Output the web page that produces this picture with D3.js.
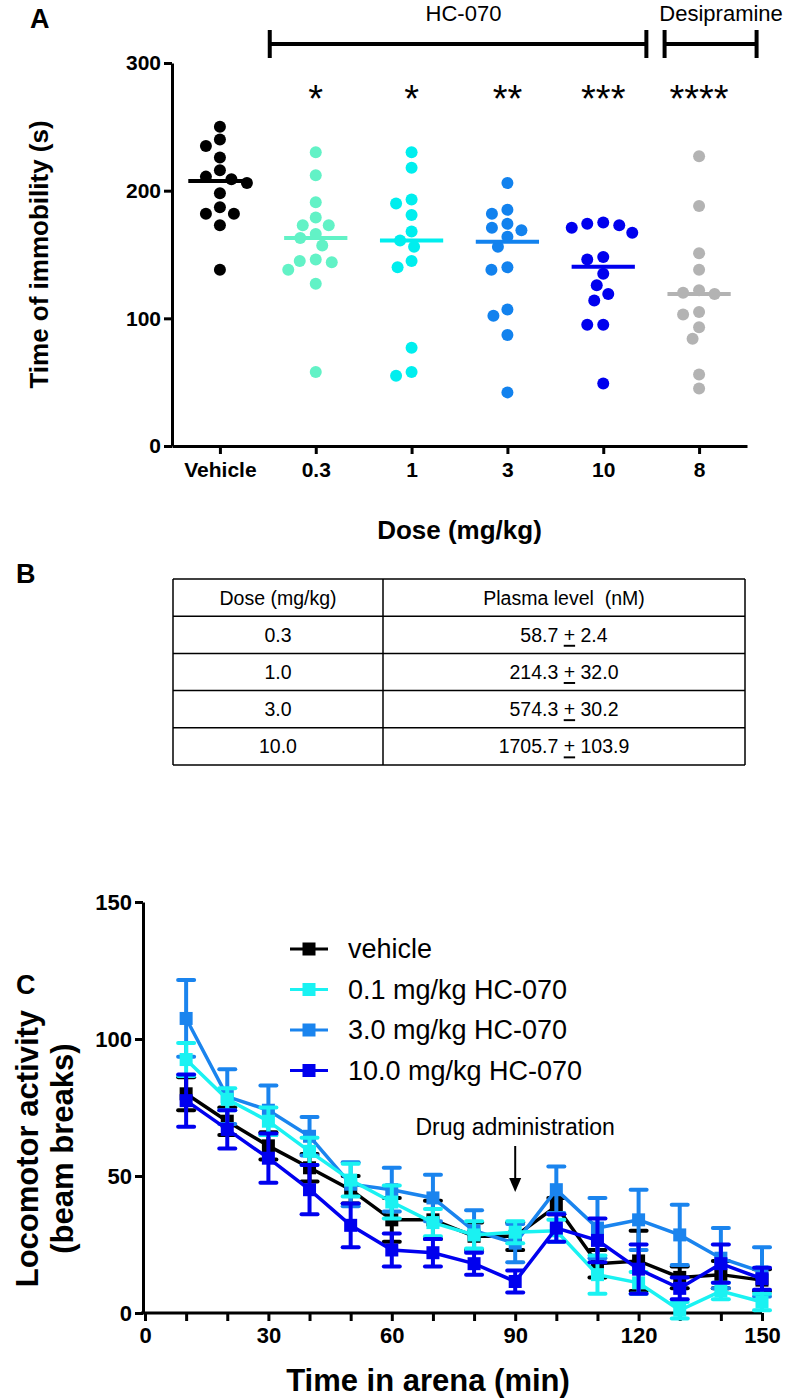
<!DOCTYPE html>
<html>
<head>
<meta charset="utf-8">
<script src="https://cdn.jsdelivr.net/npm/d3@7"></script>
<style>
body { margin: 0; background: #fff; }
svg { display: block; font-family: "Liberation Sans", Arial, sans-serif; }
</style>
</head>
<body>
<svg id="fig" width="787" height="1399"></svg>
<script>
// ---------- panel A : forced swim, time of immobility ----------
var doseLabels = ["Vehicle", "0.3", "1", "3", "10", "8"];
var sigLabels = ["", "*", "*", "**", "***", "****"];
var groupColors = ["#000000", "#62f2c6", "#00eeee", "#1282ee", "#0000ee", "#b3b3b3"];
var vehicleVals = [250, 240, 235, 226, 216, 211, 209, 206, 198, 187, 182, 182, 173, 138];
var hc03Vals = [230, 212, 191, 179, 173, 173, 166, 163, 157, 146, 145, 144, 138, 127, 58];
var hc1Vals = [230, 218, 193, 190, 181, 168, 161, 156, 145, 140, 77, 58, 55];
var hc3Vals = [206, 185, 182, 174, 171, 169, 164, 156, 140, 138, 107, 102, 87, 42];
var hc10Vals = [175, 174, 173, 171, 167, 148, 146, 135, 126, 119, 114, 95, 95, 49];
var desiVals = [227, 188, 151, 138, 122, 120, 119, 105, 103, 93, 84, 56, 45];
var groups = [vehicleVals, hc03Vals, hc1Vals, hc3Vals, hc10Vals, desiVals];

// ---------- panel B : plasma levels ----------
var tableDoses = ["0.3", "1.0", "3.0", "10.0"];
var plasmaMean = ["58.7", "214.3", "574.3", "1705.7"];
var plasmaSem = ["2.4", "32.0", "30.2", "103.9"];

// ---------- panel C : locomotor activity ----------
var times = [10, 20, 30, 40, 50, 60, 70, 80, 90, 100, 110, 120, 130, 140, 150];
var seriesNames = ["vehicle", "0.1 mg/kg HC-070", "3.0 mg/kg HC-070", "10.0 mg/kg HC-070"];
var seriesColors = ["#000000", "#1af2f2", "#1a84ee", "#0000ee"];
var vehicleMean = [80, 70, 61, 53, 45, 34, 34, 28, 28, 39, 18, 19, 13, 14, 12];
var vehicleSem = [6, 5, 5, 5, 5, 8, 7, 5, 5, 3, 5, 11, 4, 5, 4];
var hc01Mean = [92.5, 78, 70, 59, 48.5, 40.5, 33, 28.5, 29.5, 30, 14, 11, 1, 8, 4];
var hc01Sem = [6, 4, 5, 5, 6, 6, 5, 5, 4, 4, 7, 4, 3, 3, 3];
var hc30Mean = [107.5, 79, 74, 64.5, 47, 45, 42, 30, 25.5, 45, 31, 34, 28.5, 20, 15];
var hc30Sem = [14, 10, 9, 7, 8, 8, 8.5, 7.5, 7, 8.5, 11, 11, 11, 11, 9];
var hc100Mean = [77.5, 67, 56.5, 45, 32, 23, 22, 18, 11.5, 31, 26.5, 16, 9, 18, 12.5];
var hc100Sem = [9.5, 7, 9, 9, 8, 6, 5, 4, 4, 5, 8, 9, 4, 7, 4];
var seriesMeans = [vehicleMean, hc01Mean, hc30Mean, hc100Mean];
var seriesSems = [vehicleSem, hc01Sem, hc30Sem, hc100Sem];

var svg = d3.select("#fig");

function styleAxis(g, fontSize) {
    g.select(".domain").attr("stroke-width", 3).attr("stroke", "#000");
    g.selectAll(".tick line").attr("stroke-width", 3).attr("stroke", "#000");
    g.selectAll(".tick text")
        .attr("fill", "#000")
        .style("font-size", fontSize + "px")
        .style("font-weight", "bold");
}

// ======================= PANEL A =======================
var xA = d3.scalePoint().domain(doseLabels).range([172, 747]).padding(0.5);
var yA = d3.scaleLinear().domain([0, 300]).range([446, 63]);
var stepA = xA.step();
var dotR = 6;

svg.append("text").attr("x", 30).attr("y", 28)
    .style("font-size", "27px").style("font-weight", "bold").text("A");

var gyA = svg.append("g").attr("transform", "translate(172,0)")
    .call(d3.axisLeft(yA).tickValues([0, 100, 200, 300]).tickSize(8).tickSizeOuter(0).tickPadding(3));
styleAxis(gyA, 21);

var gxA = svg.append("g").attr("transform", "translate(0,446)")
    .call(d3.axisBottom(xA).tickSize(8).tickSizeOuter(0).tickPadding(8));
styleAxis(gxA, 21);

svg.append("text")
    .attr("transform", "translate(48," + (yA(150)) + ") rotate(-90)")
    .attr("text-anchor", "middle")
    .style("font-size", "26px").style("font-weight", "bold")
    .text("Time of immobility (s)");

svg.append("text").attr("x", (xA("1") + xA("3")) / 2).attr("y", 539)
    .attr("text-anchor", "middle")
    .style("font-size", "26px").style("font-weight", "bold")
    .text("Dose (mg/kg)");

// simple beeswarm: nearest free horizontal offset for each dot
function swarm(vals, cx) {
    var pts = vals.map(function (v) { return { v: v, y: yA(v) }; })
        .sort(function (a, b) { return a.y - b.y; });
    var placed = [];
    pts.forEach(function (p) {
        for (var k = 0; k < 400; k++) {
            var off = (k % 2 ? -1 : 1) * Math.ceil(k / 2) * 0.5;
            var ok = placed.every(function (q) {
                var dx = (q.x - (cx + off)) / 16, dy = (q.y - p.y) / 12.5;
                return dx * dx + dy * dy >= 1;
            });
            if (ok) { p.x = cx + off; break; }
        }
        placed.push(p);
    });
    return placed;
}

groups.forEach(function (vals, i) {
    var cx = xA(doseLabels[i]);
    var g = svg.append("g");
    g.selectAll("circle")
        .data(swarm(vals, cx))
        .enter().append("circle")
        .attr("cx", function (d) { return d.x; })
        .attr("cy", function (d) { return d.y; })
        .attr("r", dotR)
        .attr("fill", groupColors[i]);
    var med = d3.median(vals);
    g.append("line")
        .attr("x1", cx - stepA * 0.33).attr("x2", cx + stepA * 0.33)
        .attr("y1", yA(med)).attr("y2", yA(med))
        .attr("stroke", groupColors[i]).attr("stroke-width", 4);
    svg.append("text").attr("x", cx).attr("y", 112)
        .attr("text-anchor", "middle")
        .style("font-size", "38px")
        .text(sigLabels[i]);
});

// treatment brackets
function bracket(x1, x2, label, tx) {
    var y = 44;
    var g = svg.append("g").attr("stroke", "#000").attr("stroke-width", 4);
    g.append("line").attr("x1", x1).attr("x2", x2).attr("y1", y).attr("y2", y);
    g.append("line").attr("x1", x1).attr("x2", x1).attr("y1", y - 14).attr("y2", y + 14);
    g.append("line").attr("x1", x2).attr("x2", x2).attr("y1", y - 14).attr("y2", y + 14);
    svg.append("text").attr("x", tx).attr("y", 21)
        .attr("text-anchor", "middle").style("font-size", "22px").text(label);
}
bracket(xA("0.3") - stepA * 0.48, xA("10") + stepA * 0.45, "HC-070", (xA("1") + xA("3")) / 2 + 4);
bracket(xA("8") - stepA * 0.36, xA("8") + stepA * 0.6, "Desipramine", xA("8") + 22);

// ======================= PANEL B =======================
svg.append("text").attr("x", 16).attr("y", 583)
    .style("font-size", "27px").style("font-weight", "bold").text("B");

var colX = [173, 383, 745];
var rowY = d3.range(6).map(function (i) { return 579 + i * 37.2; });
var tb = svg.append("g").attr("stroke", "#000").attr("stroke-width", 1.5);
rowY.forEach(function (y) {
    tb.append("line").attr("x1", colX[0]).attr("x2", colX[2]).attr("y1", y).attr("y2", y);
});
colX.forEach(function (x) {
    tb.append("line").attr("x1", x).attr("x2", x).attr("y1", rowY[0]).attr("y2", rowY[5]);
});

function cell(col, row) {
    return svg.append("text")
        .attr("x", (colX[col] + colX[col + 1]) / 2)
        .attr("y", (rowY[row] + rowY[row + 1]) / 2)
        .attr("text-anchor", "middle").attr("dominant-baseline", "central")
        .style("font-size", "19.5px");
}
cell(0, 0).text("Dose (mg/kg)");
cell(1, 0).attr("xml:space", "preserve").text("Plasma level  (nM)");
tableDoses.forEach(function (d, i) {
    cell(0, i + 1).text(d);
    var t = cell(1, i + 1).attr("xml:space", "preserve");
    t.append("tspan").text(plasmaMean[i] + " ");
    t.append("tspan").style("text-decoration", "underline").text("+");
    t.append("tspan").text(" " + plasmaSem[i]);
});

// ======================= PANEL C =======================
var xC = d3.scaleLinear().domain([0, 150]).range([145, 762]);
var yC = d3.scaleLinear().domain([0, 150]).range([1313, 902]);

svg.append("text").attr("x", 16).attr("y", 994)
    .style("font-size", "27px").style("font-weight", "bold").text("C");

var gyC = svg.append("g").attr("transform", "translate(143,0)")
    .call(d3.axisLeft(yC).tickValues([0, 50, 100, 150]).tickSize(8).tickSizeOuter(0).tickPadding(3));
styleAxis(gyC, 22);

var gxC = svg.append("g").attr("transform", "translate(0,1313)")
    .call(d3.axisBottom(xC).tickValues(d3.range(0, 151, 10)).tickSize(8).tickSizeOuter(0).tickPadding(6)
        .tickFormat(function (d) { return d % 30 === 0 ? d : ""; }));
styleAxis(gxC, 22);
gxC.select(".domain").attr("d", "M141,0H" + xC(150));

var yTitle = svg.append("text")
    .attr("transform", "translate(0," + yC(60) + ") rotate(-90)")
    .attr("text-anchor", "middle")
    .style("font-size", "31px").style("font-weight", "bold");
yTitle.append("tspan").attr("x", 0).attr("y", 38).text("Locomotor activity");
yTitle.append("tspan").attr("x", 0).attr("y", 73).text("(beam breaks)");

svg.append("text").attr("x", 428).attr("y", 1391)
    .attr("text-anchor", "middle")
    .style("font-size", "31px").style("font-weight", "bold")
    .text("Time in arena (min)");

var lineC = d3.line()
    .x(function (d) { return xC(d.t); })
    .y(function (d) { return yC(d.m); });

var drawOrder = [0, 2, 1, 3];
drawOrder.forEach(function (s) {
    var pts = times.map(function (t, i) {
        return { t: t, m: seriesMeans[s][i], e: seriesSems[s][i] };
    });
    var g = svg.append("g").attr("stroke", seriesColors[s]).attr("fill", seriesColors[s]);
    g.append("path").datum(pts).attr("d", lineC).attr("fill", "none").attr("stroke-width", 3.5);
    var eb = g.selectAll("g.eb").data(pts).enter().append("g").attr("class", "eb");
    eb.append("line")
        .attr("x1", function (d) { return xC(d.t); }).attr("x2", function (d) { return xC(d.t); })
        .attr("y1", function (d) { return yC(d.m - d.e); }).attr("y2", function (d) { return yC(d.m + d.e); })
        .attr("stroke-width", 4);
    [-1, 1].forEach(function (sgn) {
        eb.append("line")
            .attr("x1", function (d) { return xC(d.t) - 8; }).attr("x2", function (d) { return xC(d.t) + 8; })
            .attr("y1", function (d) { return yC(d.m + sgn * d.e); }).attr("y2", function (d) { return yC(d.m + sgn * d.e); })
            .attr("stroke-width", 4).attr("stroke-linecap", "round");
    });
    eb.append("rect")
        .attr("x", function (d) { return xC(d.t) - 6.5; })
        .attr("y", function (d) { return yC(d.m) - 6.5; })
        .attr("width", 13).attr("height", 13).attr("stroke", "none");
});

// legend
var legend = svg.append("g").attr("transform", "translate(290,949)");
seriesNames.forEach(function (name, i) {
    var g = legend.append("g").attr("transform", "translate(0," + i * 40.5 + ")");
    g.append("line").attr("x1", 0).attr("x2", 38).attr("stroke", seriesColors[i]).attr("stroke-width", 3);
    g.append("rect").attr("x", 12.5).attr("y", -6.5).attr("width", 13).attr("height", 13).attr("fill", seriesColors[i]);
    g.append("text").attr("x", 58).attr("dominant-baseline", "central")
        .style("font-size", "27px").text(name);
});

// drug administration marker
svg.append("text").attr("x", xC(90)).attr("y", 1127)
    .attr("text-anchor", "middle").attr("dominant-baseline", "central")
    .style("font-size", "23px").text("Drug administration");
svg.append("line").attr("x1", xC(90)).attr("x2", xC(90)).attr("y1", 1146).attr("y2", 1180)
    .attr("stroke", "#000").attr("stroke-width", 2);
svg.append("path")
    .attr("d", "M" + (xC(90) - 6) + ",1178L" + (xC(90) + 6) + ",1178L" + xC(90) + ",1192Z")
    .attr("fill", "#000");
</script>
</body>
</html>
